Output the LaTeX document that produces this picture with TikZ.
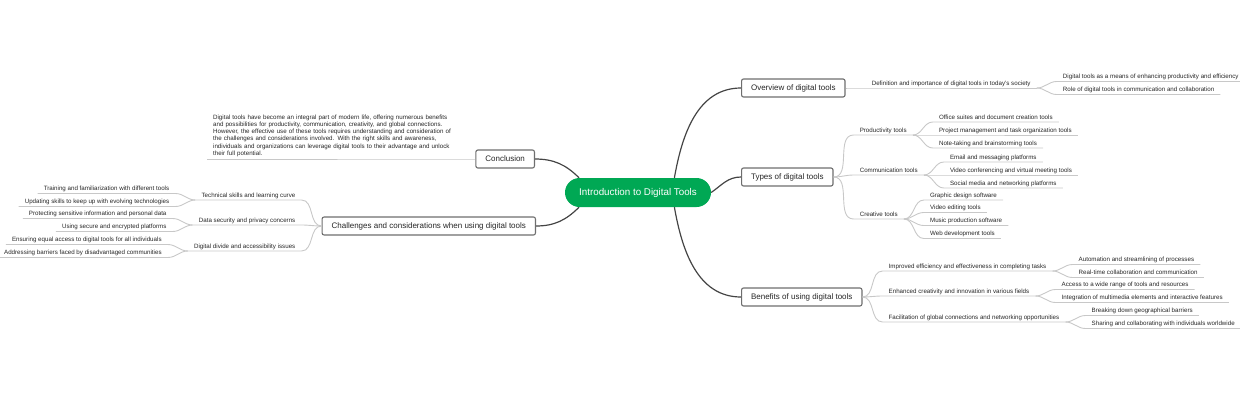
\documentclass[tikz,border=0pt]{standalone}
\usepackage{fontspec}
\setmainfont{Liberation Sans}
\usetikzlibrary{positioning, backgrounds}
\definecolor{introgreen}{RGB}{0,168,84}
\definecolor{edgegray}{RGB}{68,68,68}
\definecolor{boxgray}{RGB}{110,110,110}
\definecolor{branchgray}{RGB}{200,200,200}
\tikzset{
    centralbox/.style={fill=introgreen, text=white, rounded corners=14.5pt, minimum width=146pt, minimum height=29pt, inner sep=0pt, font=\fontsize{9.8}{11}\selectfont},
    topicbox/.style={draw=boxgray, line width=1.1pt, fill=white, rounded corners=2pt, minimum height=18pt, inner xsep=9.5pt, inner ysep=0pt, text=black!85, font=\fontsize{8}{9.6}\selectfont},
    leaf/.style={inner xsep=6pt, inner ysep=1.2pt, text height=4.6pt, text depth=1.3pt, text=black!85, font=\fontsize{6.2}{7.4}\selectfont},
    paragraphtext/.style={inner xsep=6pt, inner ysep=2pt, text width=246pt, align=left, text=black!85, font=\fontsize{6.2}{7.3}\selectfont},
    mainline/.style={draw=edgegray, line width=1.2pt},
    branchline/.style={draw=branchgray, line width=0.9pt}
}
\begin{document}
\begin{tikzpicture}[x=1pt, y=1pt]
    \useasboundingbox (0,0) rectangle (1240,-400);
    % Nodes
    \node [centralbox] (intro) at (638,-192.5) {Introduction to Digital Tools};
    \node [topicbox, anchor=west] (overview) at (741,-88) {Overview of digital tools};
    \node [topicbox, anchor=west] (types) at (741,-177) {Types of digital tools};
    \node [topicbox, anchor=west] (benefits) at (741,-297) {Benefits of using digital tools};
    \node [topicbox, anchor=east] (conclusion) at (535,-159) {Conclusion};
    \node [topicbox, anchor=east] (challenges) at (536,-226) {Challenges and considerations when using digital tools};

    % Overview
    \node [leaf, above right=0pt and 20pt of overview.east] (definition) {Definition and importance of digital tools in today's society};
    \node [leaf, above right=6.5pt and 20pt of definition.south east] (enhancing) {Digital tools as a means of enhancing productivity and efficiency};
    \node [leaf, above right=-6.5pt and 20pt of definition.south east] (role) {Role of digital tools in communication and collaboration};

    % Types
    \node [leaf, above right=42pt and 20pt of types.east] (productivity) {Productivity tools};
    \node [leaf, above right=2pt and 20pt of types.east] (communication) {Communication tools};
    \node [leaf, above right=-42pt and 20pt of types.east] (creative) {Creative tools};
    \node [leaf, above right=13pt and 20pt of productivity.south east] (office) {Office suites and document creation tools};
    \node [leaf, above right=0pt and 20pt of productivity.south east] (project) {Project management and task organization tools};
    \node [leaf, above right=-13pt and 20pt of productivity.south east] (notetaking) {Note-taking and brainstorming tools};
    \node [leaf, above right=13pt and 20pt of communication.south east] (email) {Email and messaging platforms};
    \node [leaf, above right=0pt and 20pt of communication.south east] (videoconf) {Video conferencing and virtual meeting tools};
    \node [leaf, above right=-13pt and 20pt of communication.south east] (social) {Social media and networking platforms};
    \node [leaf, above right=19pt and 20pt of creative.south east] (graphic) {Graphic design software};
    \node [leaf, above right=6.5pt and 20pt of creative.south east] (videoedit) {Video editing tools};
    \node [leaf, above right=-6.5pt and 20pt of creative.south east] (music) {Music production software};
    \node [leaf, above right=-19.5pt and 20pt of creative.south east] (webdev) {Web development tools};

    % Benefits
    \node [leaf, above right=26pt and 20pt of benefits.east] (efficiency) {Improved efficiency and effectiveness in completing tasks};
    \node [leaf, above right=1pt and 20pt of benefits.east] (innovation) {Enhanced creativity and innovation in various fields};
    \node [leaf, above right=-25pt and 20pt of benefits.east] (global) {Facilitation of global connections and networking opportunities};
    \node [leaf, above right=6.5pt and 20pt of efficiency.south east] (automation) {Automation and streamlining of processes};
    \node [leaf, above right=-6.5pt and 20pt of efficiency.south east] (realtime) {Real-time collaboration and communication};
    \node [leaf, above right=6.5pt and 20pt of innovation.south east] (access) {Access to a wide range of tools and resources};
    \node [leaf, above right=-6.5pt and 20pt of innovation.south east] (multimedia) {Integration of multimedia elements and interactive features};
    \node [leaf, above right=6.5pt and 20pt of global.south east] (barriers) {Breaking down geographical barriers};
    \node [leaf, above right=-6.5pt and 20pt of global.south east] (worldwide) {Sharing and collaborating with individuals worldwide};

    % Conclusion
    \node [paragraphtext, above left=0pt and 10pt of conclusion.west] (summary) {Digital tools have become an integral part of modern life, offering numerous benefits\\
        and possibilities for productivity, communication, creativity, and global connections.\\
        However, the effective use of these tools requires understanding and consideration of\\
        the challenges and considerations involved. With the right skills and awareness,\\
        individuals and organizations can leverage digital tools to their advantage and unlock\\
        their full potential.};

    % Challenges
    \node [leaf, above left=26pt and 20pt of challenges.west] (technical) {Technical skills and learning curve};
    \node [leaf, above left=1pt and 20pt of challenges.west] (security) {Data security and privacy concerns};
    \node [leaf, above left=-25pt and 20pt of challenges.west] (divide) {Digital divide and accessibility issues};
    \node [leaf, above left=6.5pt and 20pt of technical.south west] (training) {Training and familiarization with different tools};
    \node [leaf, above left=-6.5pt and 20pt of technical.south west] (updating) {Updating skills to keep up with evolving technologies};
    \node [leaf, above left=6.5pt and 20pt of security.south west] (protecting) {Protecting sensitive information and personal data};
    \node [leaf, above left=-6.5pt and 20pt of security.south west] (encrypted) {Using secure and encrypted platforms};
    \node [leaf, above left=6.5pt and 20pt of divide.south west] (equal) {Ensuring equal access to digital tools for all individuals};
    \node [leaf, above left=-6.5pt and 20pt of divide.south west] (disadvantaged) {Addressing barriers faced by disadvantaged communities};

    % Connections
    \begin{scope}[on background layer]
        \draw [mainline] (intro.22) to[out=80, in=180] (overview.west);
        \draw [mainline] (intro.east) to[out=35, in=180] (types.west);
        \draw [mainline] (intro.-22) to[out=-80, in=180] (benefits.west);
        \draw [mainline] (intro.166) to[out=135, in=0] (conclusion.east);
        \draw [mainline] (intro.194) to[out=-135, in=0] (challenges.east);
    \end{scope}

    \draw [branchline] (overview.east) to[out=0, in=180] (definition.south west) -- (definition.south east);
    \draw [branchline] (definition.south east) to[out=0, in=180] (enhancing.south west) -- (enhancing.south east);
    \draw [branchline] (definition.south east) to[out=0, in=180] (role.south west) -- (role.south east);

    \draw [branchline] (types.east) to[out=0, in=180] (productivity.south west) -- (productivity.south east);
    \draw [branchline] (types.east) to[out=0, in=180] (communication.south west) -- (communication.south east);
    \draw [branchline] (types.east) to[out=0, in=180] (creative.south west) -- (creative.south east);
    \draw [branchline] (productivity.south east) to[out=0, in=180] (office.south west) -- (office.south east);
    \draw [branchline] (productivity.south east) to[out=0, in=180] (project.south west) -- (project.south east);
    \draw [branchline] (productivity.south east) to[out=0, in=180] (notetaking.south west) -- (notetaking.south east);
    \draw [branchline] (communication.south east) to[out=0, in=180] (email.south west) -- (email.south east);
    \draw [branchline] (communication.south east) to[out=0, in=180] (videoconf.south west) -- (videoconf.south east);
    \draw [branchline] (communication.south east) to[out=0, in=180] (social.south west) -- (social.south east);
    \draw [branchline] (creative.south east) to[out=0, in=180] (graphic.south west) -- (graphic.south east);
    \draw [branchline] (creative.south east) to[out=0, in=180] (videoedit.south west) -- (videoedit.south east);
    \draw [branchline] (creative.south east) to[out=0, in=180] (music.south west) -- (music.south east);
    \draw [branchline] (creative.south east) to[out=0, in=180] (webdev.south west) -- (webdev.south east);

    \draw [branchline] (benefits.east) to[out=0, in=180] (efficiency.south west) -- (efficiency.south east);
    \draw [branchline] (benefits.east) to[out=0, in=180] (innovation.south west) -- (innovation.south east);
    \draw [branchline] (benefits.east) to[out=0, in=180] (global.south west) -- (global.south east);
    \draw [branchline] (efficiency.south east) to[out=0, in=180] (automation.south west) -- (automation.south east);
    \draw [branchline] (efficiency.south east) to[out=0, in=180] (realtime.south west) -- (realtime.south east);
    \draw [branchline] (innovation.south east) to[out=0, in=180] (access.south west) -- (access.south east);
    \draw [branchline] (innovation.south east) to[out=0, in=180] (multimedia.south west) -- (multimedia.south east);
    \draw [branchline] (global.south east) to[out=0, in=180] (barriers.south west) -- (barriers.south east);
    \draw [branchline] (global.south east) to[out=0, in=180] (worldwide.south west) -- (worldwide.south east);

    \draw [branchline] (conclusion.west) -- (summary.south east) -- (summary.south west);

    \draw [branchline] (challenges.west) to[out=180, in=0] (technical.south east) -- (technical.south west);
    \draw [branchline] (challenges.west) to[out=180, in=0] (security.south east) -- (security.south west);
    \draw [branchline] (challenges.west) to[out=180, in=0] (divide.south east) -- (divide.south west);
    \draw [branchline] (technical.south west) to[out=180, in=0] (training.south east) -- (training.south west);
    \draw [branchline] (technical.south west) to[out=180, in=0] (updating.south east) -- (updating.south west);
    \draw [branchline] (security.south west) to[out=180, in=0] (protecting.south east) -- (protecting.south west);
    \draw [branchline] (security.south west) to[out=180, in=0] (encrypted.south east) -- (encrypted.south west);
    \draw [branchline] (divide.south west) to[out=180, in=0] (equal.south east) -- (equal.south west);
    \draw [branchline] (divide.south west) to[out=180, in=0] (disadvantaged.south east) -- (disadvantaged.south west);
\end{tikzpicture}
\end{document}
